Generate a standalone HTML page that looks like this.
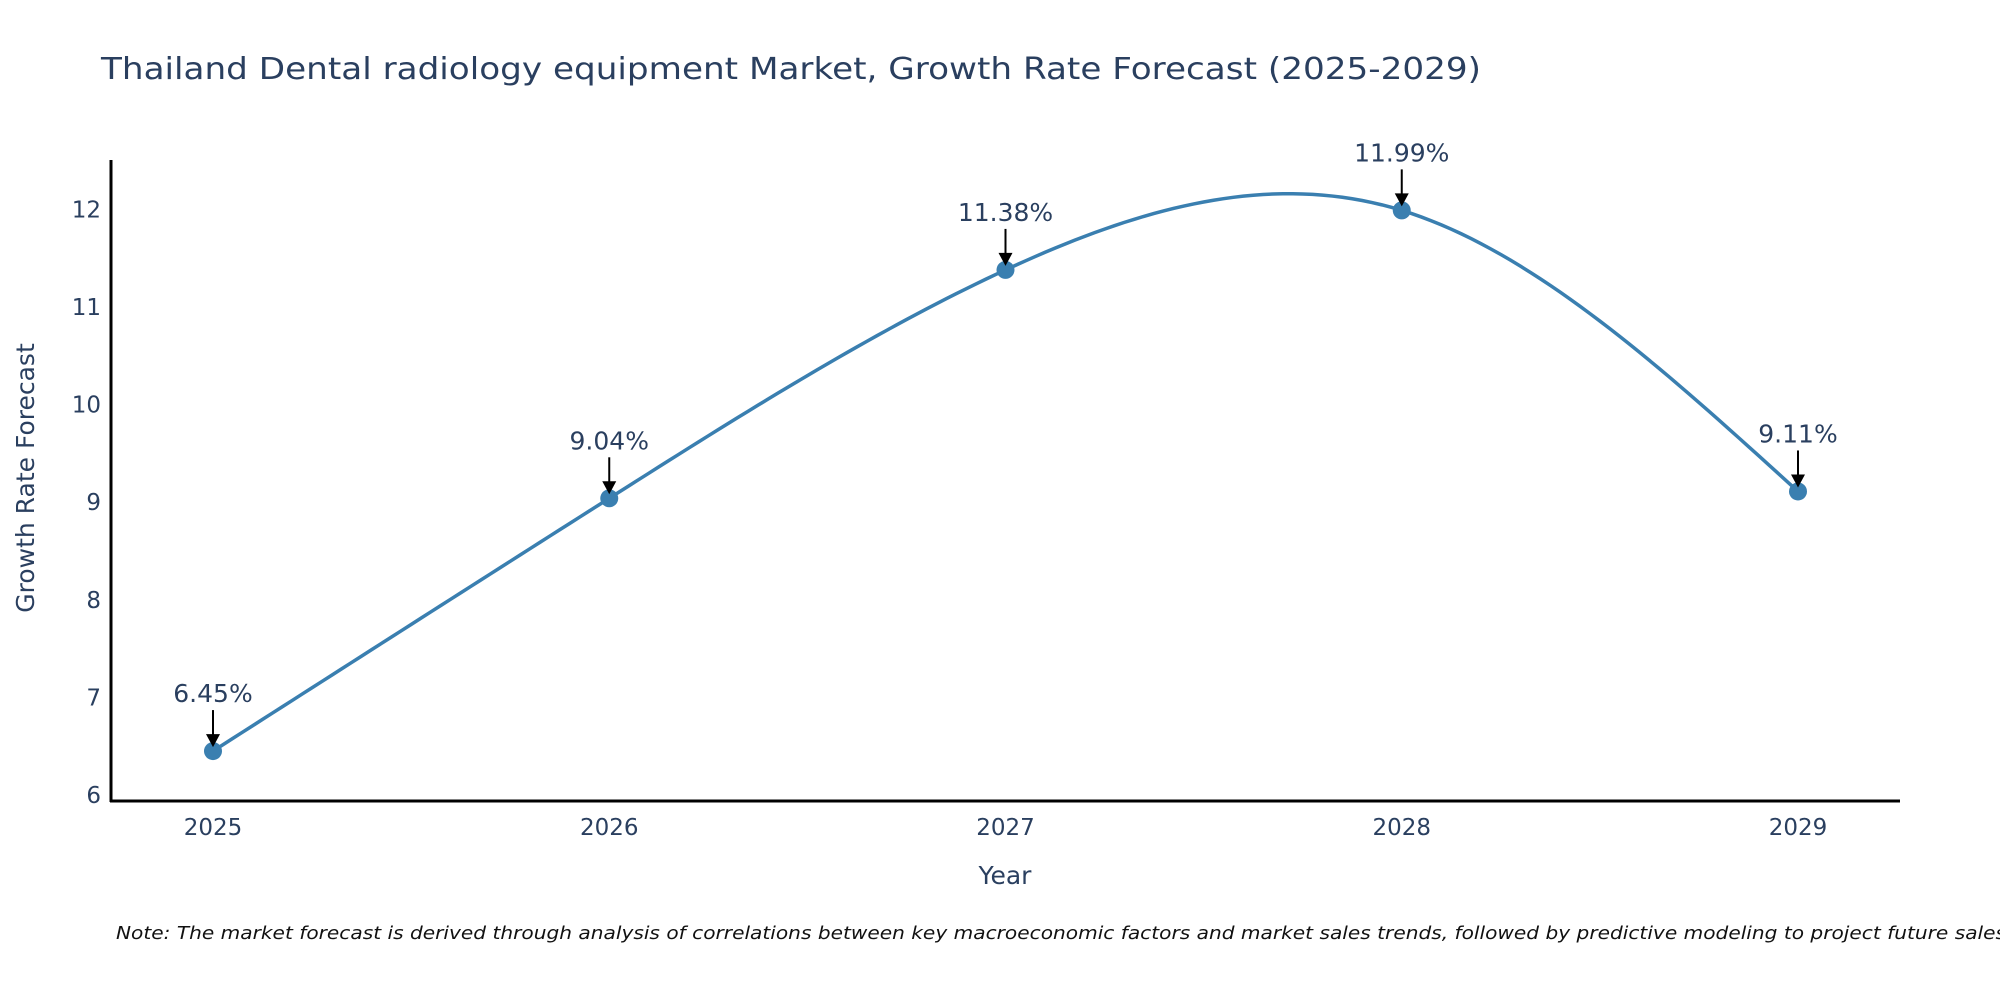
<!DOCTYPE html>
<html><head><meta charset="utf-8"><style>
html,body{margin:0;padding:0;background:#fff;}
svg{display:block;font-family:"DejaVu Sans","Liberation Sans",sans-serif;}
</style></head><body>
<svg id="chart" width="2000" height="1000" viewBox="0 0 2000 1000">
<text x="101" y="79" font-size="30" fill="#2a3f5f" textLength="1380" lengthAdjust="spacingAndGlyphs">Thailand Dental radiology equipment Market, Growth Rate Forecast (2025-2029)</text>
<g id="yticks"></g>
<g id="xticks"></g>
<line x1="111" y1="160" x2="111" y2="802" stroke="#000" stroke-width="3"/>
<line x1="110" y1="801" x2="1900" y2="801" stroke="#000" stroke-width="3"/>
<path id="line" fill="none" stroke="#3a7fb0" stroke-width="3.5"/>
<g id="points"></g>
<g id="annots"></g>
<text x="1005" y="884" font-size="25" fill="#2a3f5f" text-anchor="middle">Year</text>
<text transform="translate(34,478) rotate(-90)" font-size="25" fill="#2a3f5f" text-anchor="middle">Growth Rate Forecast</text>
<text x="116" y="939" font-size="18" font-style="italic" fill="#111" textLength="1890" lengthAdjust="spacingAndGlyphs">Note: The market forecast is derived through analysis of correlations between key macroeconomic factors and market sales trends, followed by predictive modeling to project future sales</text>
</svg>
<script>
const years = ["2025","2026","2027","2028","2029"];
const rates = [6.45, 9.04, 11.38, 11.99, 9.11];
const labels = ["6.45%","9.04%","11.38%","11.99%","9.11%"];
const yTicks = [6,7,8,9,10,11,12];

const NS = "http://www.w3.org/2000/svg";
function xPos(i){ return 213 + i*396.25; }
function yPos(v){ return 795 - (v-6)*97.6; }
function mk(tag, attrs, parent){ const e=document.createElementNS(NS,tag); for(const k in attrs) e.setAttribute(k,attrs[k]); parent.appendChild(e); return e; }

const yt=document.getElementById('yticks');
yTicks.forEach(t=>{
  const e=mk('text',{x:101,y:yPos(t)+8,'font-size':23,fill:'#2a3f5f','text-anchor':'end'},yt);
  
  
  e.textContent=t;
});
const xt=document.getElementById('xticks');
years.forEach((y,i)=>{
  const e=mk('text',{x:xPos(i),y:835,'font-size':23,fill:'#2a3f5f','text-anchor':'middle'},xt);
  
  
  e.textContent=y;
});

// natural cubic spline through the points
const n=rates.length;
const xs=rates.map((v,i)=>i), ys=rates.slice();
const M=new Array(n).fill(0);
{
  const a=[],b=[],c=[],r=[];
  for(let i=1;i<n-1;i++){a.push(1);b.push(4);c.push(1);r.push(6*(ys[i+1]-2*ys[i]+ys[i-1]));}
  const m=r.length;
  for(let i=1;i<m;i++){const w=a[i]/b[i-1];b[i]-=w*c[i-1];r[i]-=w*r[i-1];}
  const sol=new Array(m);
  for(let i=m-1;i>=0;i--) sol[i]=(r[i]-(i<m-1?c[i]*sol[i+1]:0))/b[i];
  for(let i=0;i<m;i++) M[i+1]=sol[i];
}
let d="";
for(let i=0;i<n-1;i++){
  for(let s=0;s<=40;s++){
    const t=s/40, A=1-t, B=t;
    const v=A*ys[i]+B*ys[i+1]+((A*A*A-A)*M[i]+(B*B*B-B)*M[i+1])/6;
    const X=xPos(i+t), Y=yPos(v);
    d+=(d?"L":"M")+X.toFixed(2)+","+Y.toFixed(2);
  }
}
document.getElementById('line').setAttribute('d',d);

const pg=document.getElementById('points'), ag=document.getElementById('annots');
rates.forEach((v,i)=>{
  const p=[xPos(i),yPos(v)];
  const c=mk('circle',{cx:p[0],cy:p[1],r:9,fill:'#3a7fb0'},pg);
  
  
  const l=mk('line',{x1:p[0],y1:p[1]-41,x2:p[0],y2:p[1]-12,stroke:'#000','stroke-width':2},ag);
  
  
  const h=mk('polygon',{points:`${p[0]-7},${p[1]-17} ${p[0]+7},${p[1]-17} ${p[0]},${p[1]-4}`,fill:'#000'},ag);
  
  
  const t=mk('text',{x:p[0],y:p[1]-49,'font-size':25,fill:'#2a3f5f','text-anchor':'middle'},ag);
  
  
  t.textContent=labels[i];
});
</script>
</body></html>
